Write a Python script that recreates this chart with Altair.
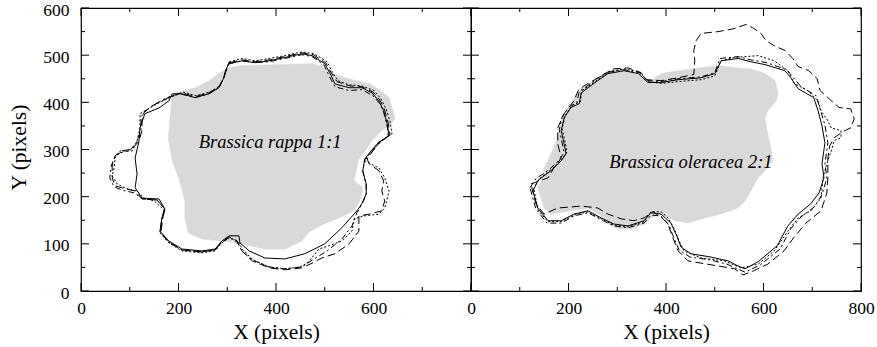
import altair as alt
import pandas as pd

# ---------------- data (image coordinates, pixels) ----------------
X_MAJOR = [0, 200, 400, 600, 800]
X_MINOR = [100, 300, 500, 700]
Y_MAJOR = [0, 100, 200, 300, 400, 500, 600]
Y_MINOR = [50, 150, 250, 350, 450, 550]
LEFT_X_LABELS = [0, 200, 400, 600]
RIGHT_X_LABELS = [0, 200, 400, 600, 800]
Y_LABELS = [0, 100, 200, 300, 400, 500, 600]

LEFT_TEXT = ["Brassica rappa 1:1"]
LEFT_TEXT_X = [388]
LEFT_TEXT_Y = [304]
RIGHT_TEXT = ["Brassica oleracea 2:1"]
RIGHT_TEXT_X = [451]
RIGHT_TEXT_Y = [260]

LEFT_GRAY_X = [187, 207, 234, 263, 283, 304, 330, 412, 474, 500, 521, 556, 591, 617, 632, 640, 644, 634, 617, 597,
               583, 570, 560, 579, 572, 560, 529, 494, 468, 453, 419, 377, 345, 310, 248, 220, 213, 213, 201, 187,
               179, 183]
LEFT_GRAY_Y = [418, 423, 431, 446, 461, 474, 478, 480, 482, 474, 459, 448, 440, 423, 410, 382, 365, 352, 340, 319,
               297, 280, 234, 219, 191, 170, 155, 140, 125, 106, 89, 89, 96, 104, 110, 123, 155, 191, 238, 276,
               323, 372]

LEFT_SOLID_X = [304, 330, 357, 386, 418, 453, 474, 500, 511, 521, 550, 576, 597, 611, 621, 628, 632, 611, 595, 582,
                578, 585, 585, 576, 566, 535, 500, 459, 418, 377, 345, 326, 324, 304, 289, 275, 248, 207, 180, 162,
                166, 172, 160, 125, 111, 115, 111, 119, 121, 131, 160, 180, 187, 207, 234, 262, 283, 293, 299]
LEFT_SOLID_Y = [482, 488, 484, 488, 495, 503, 499, 482, 461, 439, 431, 431, 420, 403, 382, 355, 329, 316, 297, 280,
                255, 227, 206, 185, 170, 134, 100, 79, 68, 70, 85, 102, 117, 117, 106, 89, 85, 89, 106, 127,
                155, 174, 195, 197, 219, 248, 282, 318, 346, 376, 388, 403, 418, 418, 410, 418, 431, 452, 473]

LEFT_DASHED_X = [304, 330, 357, 386, 418, 453, 476, 502, 513, 525, 550, 576, 599, 613, 623, 630, 634, 615, 599, 587,
                 591, 611, 621, 617, 623, 617, 591, 570, 570, 550, 521, 494, 474, 453, 418, 386, 351, 330, 320, 304,
                 289, 275, 248, 207, 180, 164, 168, 172, 156, 125, 111, 90, 70, 64, 64, 70, 84, 105, 119, 125,
                 125, 129, 146, 166, 187, 207, 234, 262, 283, 293, 299]
LEFT_DASHED_Y = [484, 490, 486, 490, 497, 505, 501, 484, 463, 444, 435, 433, 422, 405, 384, 357, 331, 318, 297, 280,
                 270, 255, 233, 212, 191, 170, 163, 159, 127, 100, 79, 70, 59, 49, 45, 49, 64, 85, 106, 115,
                 104, 87, 83, 87, 104, 125, 155, 174, 193, 195, 212, 217, 223, 240, 265, 287, 297, 301, 318, 340,
                 361, 378, 393, 403, 414, 420, 412, 420, 433, 454, 476]

LEFT_DOTTED_X = [304, 330, 357, 386, 418, 453, 478, 505, 515, 527, 550, 576, 601, 615, 626, 634, 638, 619, 601, 587,
                 582, 611, 623, 632, 623, 611, 580, 560, 556, 535, 509, 488, 478, 464, 449, 418, 386, 353, 332, 322,
                 304, 289, 275, 248, 207, 180, 162, 166, 170, 150, 129, 115, 94, 74, 64, 68, 70, 80, 105, 115,
                 121, 121, 131, 160, 187, 209, 236, 265, 285, 295, 301]
LEFT_DOTTED_Y = [486, 493, 488, 493, 499, 507, 503, 486, 465, 446, 437, 435, 425, 408, 386, 359, 333, 321, 301, 284,
                 276, 261, 240, 212, 176, 163, 159, 153, 127, 106, 96, 89, 76, 59, 51, 47, 51, 66, 87, 106,
                 113, 102, 85, 81, 85, 102, 123, 153, 172, 191, 197, 212, 217, 227, 244, 261, 282, 297, 297, 318,
                 346, 376, 382, 399, 412, 422, 414, 422, 435, 456, 478]

LEFT_DASHDOT_X = [304, 330, 357, 386, 418, 453, 474, 498, 509, 521, 550, 576, 599, 613, 621, 628, 630, 611, 595, 582,
                  578, 585, 585, 576, 566, 556, 535, 505, 478, 453, 418, 386, 351, 330, 320, 304, 289, 275, 248, 207,
                  180, 162, 166, 172, 156, 127, 109, 84, 68, 59, 62, 68, 80, 100, 113, 123, 123, 127, 150, 176,
                  203, 234, 262, 283, 293, 299]
LEFT_DASHDOT_Y = [482, 488, 484, 486, 493, 501, 497, 480, 456, 433, 425, 427, 414, 397, 378, 350, 327, 314, 295, 278,
                  253, 225, 204, 183, 166, 138, 110, 85, 68, 51, 47, 51, 66, 85, 104, 113, 104, 87, 83, 87,
                  104, 125, 153, 172, 193, 195, 208, 214, 221, 240, 265, 282, 293, 297, 314, 340, 365, 378, 395, 410,
                  418, 410, 418, 431, 452, 473]

RIGHT_GRAY_X = [205, 219, 252, 281, 314, 349, 369, 390, 425, 466, 507, 548, 574, 603, 624, 630, 626, 609, 603, 609,
                615, 619, 603, 589, 574, 562, 548, 513, 480, 445, 418, 390, 369, 357, 328, 301, 281, 267, 240, 205,
                164, 150, 137, 144, 150, 164, 178, 185]
RIGHT_GRAY_Y = [397, 425, 446, 467, 471, 456, 446, 461, 467, 473, 478, 473, 471, 461, 446, 418, 403, 382, 367, 333,
                304, 276, 255, 240, 212, 191, 176, 163, 155, 144, 149, 163, 155, 142, 132, 132, 142, 159, 176, 170,
                163, 176, 219, 233, 261, 291, 325, 361]

RIGHT_SOLID_X = [127, 137, 164, 185, 195, 191, 185, 191, 205, 222, 226, 240, 260, 281, 314, 343, 363, 390, 425, 472,
                 500, 513, 548, 574, 603, 644, 656, 671, 703, 712, 720, 726, 720, 724, 714, 697, 671, 650, 628, 589,
                 562, 544, 527, 492, 451, 431, 422, 410, 390, 369, 355, 322, 293, 267, 240, 211, 185, 158, 137]
RIGHT_SOLID_Y = [212, 234, 255, 276, 291, 312, 340, 367, 389, 397, 420, 431, 446, 461, 467, 461, 442, 442, 448, 452,
                 461, 488, 493, 486, 480, 467, 452, 429, 410, 382, 350, 314, 270, 240, 208, 185, 163, 138, 96, 62,
                 47, 55, 64, 72, 79, 93, 117, 144, 163, 166, 149, 138, 142, 155, 170, 163, 149, 149, 176]

RIGHT_DASHED_X = [123, 158, 170, 185, 178, 178, 191, 211, 220, 232, 267, 293, 322, 349, 359, 390, 425, 457, 459, 457,
                  462, 472, 507, 539, 564, 578, 595, 605, 622, 644, 660, 671, 693, 710, 716, 734, 755, 779, 786, 779,
                  763, 745, 736, 732, 732, 730, 718, 687, 662, 642, 609, 578, 558, 541, 507, 472, 445, 425, 414, 404,
                  390, 373, 355, 334, 308, 281, 260, 226, 178, 150, 133]
RIGHT_DASHED_Y = [227, 240, 261, 282, 312, 346, 376, 403, 425, 435, 456, 471, 473, 463, 448, 446, 452, 459, 488, 510,
                  531, 546, 550, 556, 565, 558, 546, 531, 520, 510, 493, 476, 467, 450, 425, 408, 389, 386, 365, 346,
                  338, 325, 308, 282, 240, 208, 170, 144, 113, 85, 57, 42, 34, 47, 53, 59, 64, 85, 113, 142,
                  157, 168, 155, 149, 153, 163, 176, 180, 176, 163, 185]

RIGHT_DOTTED_X = [129, 140, 166, 187, 197, 193, 187, 193, 207, 224, 228, 242, 263, 283, 314, 343, 365, 390, 425, 472,
                  500, 513, 539, 589, 622, 650, 663, 691, 712, 718, 732, 739, 759, 759, 745, 739, 730, 722, 718, 697,
                  671, 650, 622, 589, 554, 519, 472, 437, 427, 416, 404, 390, 369, 355, 322, 293, 267, 240, 211, 185,
                  158, 137]
RIGHT_DOTTED_Y = [217, 238, 259, 280, 295, 316, 344, 372, 393, 401, 425, 435, 450, 465, 471, 465, 444, 440, 444, 448,
                  456, 488, 495, 499, 488, 467, 440, 425, 403, 382, 361, 346, 340, 325, 319, 297, 270, 240, 197, 170,
                  155, 127, 85, 57, 49, 64, 70, 85, 106, 134, 155, 168, 168, 147, 136, 140, 153, 168, 161, 147,
                  147, 172]

RIGHT_DASHDOT_X = [121, 133, 160, 181, 191, 187, 181, 187, 201, 217, 222, 236, 256, 277, 314, 345, 363, 390, 425, 472,
                   500, 511, 548, 574, 607, 648, 660, 677, 708, 716, 726, 732, 726, 730, 720, 704, 677, 656, 634, 593,
                   562, 542, 525, 490, 449, 427, 416, 406, 390, 369, 355, 322, 293, 267, 240, 211, 185, 156, 133]
RIGHT_DASHDOT_Y = [219, 238, 257, 278, 293, 314, 342, 369, 391, 399, 423, 433, 448, 463, 469, 463, 446, 444, 450, 454,
                   463, 493, 497, 490, 484, 469, 454, 433, 414, 386, 352, 314, 270, 240, 204, 178, 157, 132, 89, 55,
                   40, 49, 57, 66, 72, 87, 113, 140, 159, 161, 144, 134, 138, 151, 166, 159, 144, 144, 174]

# ---------------- styling ----------------
GRAY = "#d9d9d9"
FONT = "Liberation Serif"
W, H = 390, 283
MAJ, MIN = 8, 4

xs = alt.Scale(domain=[0, 800], nice=False, zero=False)
ys = alt.Scale(domain=[0, 600], nice=False, zero=False)


def poly_df(xv, yv):
    return pd.DataFrame({"x": xv, "y": yv, "i": list(range(len(xv)))})


def make_axes(xlabels, show_y):
    xaxis = alt.Axis(values=xlabels, ticks=False, tickSize=0, domain=False, grid=False,
                     labelFont=FONT, labelFontSize=17.5, labelColor="black", labelPadding=8.7,
                     labelFlush=False, labelOverlap=False,
                     title="X (pixels)", titleFont=FONT, titleFontSize=21.5, titleFontWeight="normal",
                     titleColor="black", titleY=47, titleBaseline="alphabetic")
    if show_y:
        yaxis = alt.Axis(values=Y_LABELS, ticks=False, tickSize=0, domain=False, grid=False,
                         labelFont=FONT, labelFontSize=17.5, labelColor="black", labelPadding=12,
                         labelOffset=2, labelFlush=False, labelOverlap=False,
                         title="Y (pixels)", titleFont=FONT, titleFontSize=21.5, titleFontWeight="normal",
                         titleColor="black", titleX=-56, titleY=139, titleAngle=270,
                         titleBaseline="alphabetic", titleAlign="center")
    else:
        yaxis = None
    return xaxis, yaxis


def panel(gray, lines, text, tx, ty, xlabels, show_y):
    xaxis, yaxis = make_axes(xlabels, show_y)

    def X(f):
        return alt.X(f, scale=xs, axis=xaxis)

    def Y(f):
        return alt.Y(f, scale=ys, axis=yaxis)

    layers = [alt.Chart(poly_df(*gray)).mark_line(
        interpolate="linear-closed", fill=GRAY, stroke=GRAY, strokeWidth=0.5).encode(
        x=X("x:Q"), y=Y("y:Q"), order=alt.Order("i:Q"))]
    for (xv, yv), dash in lines:
        kw = {} if dash is None else {"strokeDash": dash}
        layers.append(alt.Chart(poly_df(xv, yv)).mark_line(
            interpolate="linear-closed", color="black", strokeWidth=1.0, **kw).encode(
            x=X("x:Q"), y=Y("y:Q"), order=alt.Order("i:Q")))
    layers.append(alt.Chart(pd.DataFrame({"x": tx, "y": ty, "t": text})).mark_text(
        font=FONT, fontStyle="italic", fontSize=18.5, align="center", baseline="alphabetic",
        color="black").encode(x=X("x:Q"), y=Y("y:Q"), text="t:N"))
    # inward ticks on all four sides
    for vals, ln in ((X_MAJOR, MAJ), (X_MINOR, MIN)):
        d = pd.DataFrame({"x": vals})
        for y0, y1 in ((H, H - ln), (0, ln)):
            layers.append(alt.Chart(d).mark_rule(color="black", strokeWidth=1).encode(
                x=X("x:Q"), y=alt.value(y0), y2=alt.value(y1)))
    for vals, ln in ((Y_MAJOR, MAJ), (Y_MINOR, MIN)):
        d = pd.DataFrame({"y": vals})
        for x0, x1 in ((0, ln), (W, W - ln)):
            layers.append(alt.Chart(d).mark_rule(color="black", strokeWidth=1).encode(
                y=Y("y:Q"), x=alt.value(x0), x2=alt.value(x1)))
    return alt.layer(*layers).properties(width=W, height=H)


left = panel((LEFT_GRAY_X, LEFT_GRAY_Y),
             [((LEFT_SOLID_X, LEFT_SOLID_Y), None),
              ((LEFT_DASHED_X, LEFT_DASHED_Y), [8, 4]),
              ((LEFT_DOTTED_X, LEFT_DOTTED_Y), [2, 2]),
              ((LEFT_DASHDOT_X, LEFT_DASHDOT_Y), [6, 3, 2, 3])],
             LEFT_TEXT, LEFT_TEXT_X, LEFT_TEXT_Y, LEFT_X_LABELS, True)
right = panel((RIGHT_GRAY_X, RIGHT_GRAY_Y),
              [((RIGHT_SOLID_X, RIGHT_SOLID_Y), None),
               ((RIGHT_DASHED_X, RIGHT_DASHED_Y), [8, 4]),
               ((RIGHT_DOTTED_X, RIGHT_DOTTED_Y), [2, 2]),
               ((RIGHT_DASHDOT_X, RIGHT_DASHDOT_Y), [6, 3, 2, 3])],
              RIGHT_TEXT, RIGHT_TEXT_X, RIGHT_TEXT_Y, RIGHT_X_LABELS, False)

chart = alt.hconcat(left, right, spacing=0, bounds="flush").properties(
    padding={"left": 7, "top": 0, "right": 0, "bottom": 0},
    background="white",
).configure_view(stroke="black", strokeWidth=1.2)

chart.save("out.html", embed_options={"renderer": "svg", "actions": False})
